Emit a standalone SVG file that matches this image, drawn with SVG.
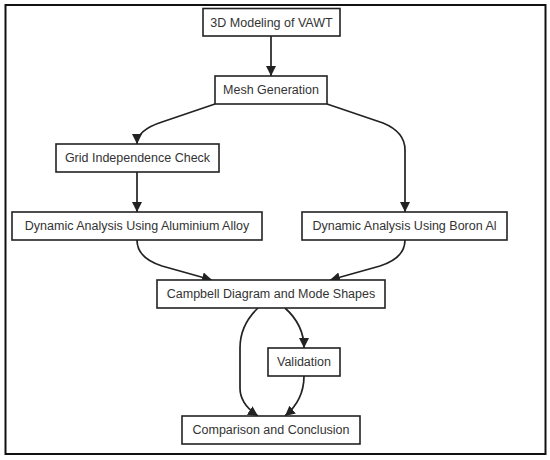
<svg xmlns="http://www.w3.org/2000/svg" width="550" height="460" viewBox="0 0 550 460">
<style>
.n rect{fill:#fff;stroke:#222;stroke-width:1.6}
.n text{font-family:"Liberation Sans",Arial,sans-serif;font-size:12.5px;fill:#333;text-anchor:middle;dominant-baseline:central}
.e path{fill:none;stroke:#222;stroke-width:1.7}
</style>
<defs>
<marker id="ah" viewBox="0 0 10 10" refX="10" refY="5" markerWidth="10" markerHeight="10" markerUnits="userSpaceOnUse" orient="auto">
<path d="M0,0 L10,5 L0,10 z" fill="#222"/>
</marker>
</defs>
<rect x="5.5" y="5" width="540" height="449" fill="#fff" stroke="#111" stroke-width="2"/>
<g class="e" marker-end="url(#ah)">
<path d="M271,36 L271,76" marker-end="url(#ah)"/>
<path d="M215,104 L162,122 Q137,130 137,144" marker-end="url(#ah)"/>
<path d="M327,104 L383,123 Q405,132 405,150 L405,212" marker-end="url(#ah)"/>
<path d="M137,172 L137,212" marker-end="url(#ah)"/>
<path d="M137,240 Q137,258 162,266 L212,280" marker-end="url(#ah)"/>
<path d="M405,240 Q405,258 380,266 L330,280" marker-end="url(#ah)"/>
<path d="M258,308 Q240,325 240,348 L240,388 Q240,404 258,416" marker-end="url(#ah)"/>
<path d="M285,308 Q304,325 304,348" marker-end="url(#ah)"/>
<path d="M304,376 Q304,400 285,416" marker-end="url(#ah)"/>
</g>
<g id="n1" class="n"><rect x="203" y="8.5" width="137" height="27.5"/><text x="271.5" y="22.5">3D Modeling of VAWT</text></g>
<g id="n2" class="n"><rect x="215" y="76" width="112" height="28"/><text x="271" y="90">Mesh Generation</text></g>
<g id="n3" class="n"><rect x="56" y="144" width="163" height="28"/><text x="137.5" y="158">Grid Independence Check</text></g>
<g id="n4" class="n"><rect x="12" y="212" width="250" height="28"/><text x="137" y="226">Dynamic Analysis Using Aluminium Alloy</text></g>
<g id="n5" class="n"><rect x="302" y="212" width="205" height="28"/><text x="404.5" y="226">Dynamic Analysis Using Boron Al</text></g>
<g id="n6" class="n"><rect x="157" y="280" width="228" height="28"/><text x="271" y="294">Campbell Diagram and Mode Shapes</text></g>
<g id="n7" class="n"><rect x="268" y="348" width="72" height="28"/><text x="304" y="362">Validation</text></g>
<g id="n8" class="n"><rect x="182" y="416" width="178" height="28"/><text x="271" y="430">Comparison and Conclusion</text></g>
</svg>
